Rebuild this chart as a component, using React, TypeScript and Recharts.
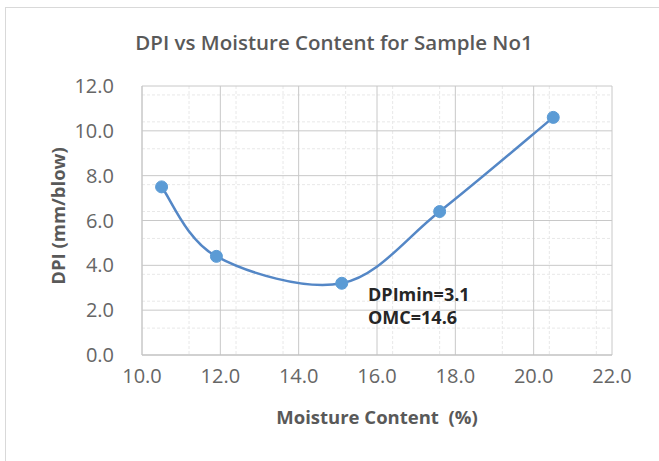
import React from "react";
import {
  LineChart,
  Line,
  XAxis,
  YAxis,
  CartesianGrid,
} from "recharts";

const moisture = [10.5, 11.9, 15.1, 17.6, 20.5];
const dpi = [7.5, 4.4, 3.2, 6.4, 10.6];

const xTicks = [10, 12, 14, 16, 18, 20, 22];
const yTicks = [0, 2, 4, 6, 8, 10, 12];

const title = "DPI vs Moisture Content for Sample No1";
const xTitle = "Moisture Content  (%)";
const yTitle = "DPI (mm/blow)";
const notes = ["DPImin=3.1", "OMC=14.6"];

const data = moisture.map((m, i) => ({ moisture: m, dpi: dpi[i] }));

// five minor divisions between each pair of major ticks
const minorOf = (ticks: number[]) => {
  const out: number[] = [];
  for (let i = 0; i < ticks.length - 1; i++) {
    const step = (ticks[i + 1] - ticks[i]) / 5;
    for (let k = 1; k < 5; k++) out.push(ticks[i] + step * k);
  }
  return out;
};

// spreadsheet-style smoothed line: bezier control points at +/- (next - prev) / 6
const smoothCurve = (context: any) => {
  let pts: [number, number][] = [];
  return {
    areaStart() {},
    areaEnd() {},
    lineStart() {
      pts = [];
    },
    point(x: number, y: number) {
      pts.push([+x, +y]);
    },
    lineEnd() {
      if (!pts.length) return;
      context.moveTo(pts[0][0], pts[0][1]);
      for (let i = 0; i < pts.length - 1; i++) {
        const p0 = pts[Math.max(i - 1, 0)];
        const p1 = pts[i];
        const p2 = pts[i + 1];
        const p3 = pts[Math.min(i + 2, pts.length - 1)];
        context.bezierCurveTo(
          p1[0] + (p2[0] - p0[0]) / 6,
          p1[1] + (p2[1] - p0[1]) / 6,
          p2[0] - (p3[0] - p1[0]) / 6,
          p2[1] - (p3[1] - p1[1]) / 6,
          p2[0],
          p2[1]
        );
      }
    },
  };
};

const font = "'Open Sans', sans-serif";
const grey = "#595959";

export default function App() {
  return (
    <div
      style={{
        position: "absolute",
        left: 0,
        top: 0,
        width: 659,
        height: 461,
        background: "#fff",
        fontFamily: font,
      }}
    >
      <div
        style={{
          position: "absolute",
          left: 5,
          top: 7,
          right: 0,
          bottom: 0,
          borderLeft: "1px solid #d9d9d9",
          borderTop: "1px solid #d9d9d9",
        }}
      />
      <LineChart
        width={659}
        height={461}
        data={data}
        margin={{ top: 86, right: 47, bottom: 76, left: 82 }}
      >
        <CartesianGrid
          horizontalValues={minorOf(yTicks)}
          verticalValues={minorOf(xTicks)}
          stroke="#e8e8e8"
          strokeDasharray="3 2"
        />
        <CartesianGrid
          horizontalValues={yTicks}
          verticalValues={xTicks}
          stroke="#c8c8c8"
        />
        <XAxis
          type="number"
          dataKey="moisture"
          domain={[10, 22]}
          ticks={xTicks}
          tickFormatter={(v) => v.toFixed(1)}
          tickLine={false}
          axisLine={{ stroke: "#bfbfbf" }}
          height={30}
          tick={{ fill: "#666", fontSize: 20, fontFamily: font }}
          tickMargin={8}
        />
        <YAxis
          type="number"
          domain={[0, 12]}
          ticks={yTicks}
          tickFormatter={(v) => v.toFixed(1)}
          tickLine={false}
          axisLine={{ stroke: "#c8c8c8" }}
          width={60}
          tick={{ fill: "#666", fontSize: 20, fontFamily: font }}
          tickMargin={22}
        />
        <Line
          dataKey="dpi"
          type={smoothCurve as any}
          stroke="#5487c6"
          strokeWidth={2.5}
          dot={{ r: 6, fill: "#5b9bd5", stroke: "#5b9bd5", strokeWidth: 1 }}
          activeDot={false}
          isAnimationActive={false}
        />
      </LineChart>
      <div
        style={{
          position: "absolute",
          left: 0,
          width: 668,
          top: 28,
          textAlign: "center",
          fontSize: 20.5,
          fontWeight: 600,
          color: grey,
        }}
      >
        {title}
      </div>
      <div
        style={{
          position: "absolute",
          left: 142,
          width: 470,
          top: 404,
          textAlign: "center",
          fontSize: 18.5,
          fontWeight: 700,
          color: grey,
          whiteSpace: "pre",
        }}
      >
        {xTitle}
      </div>
      <div
        style={{
          position: "absolute",
          left: 57,
          top: 216,
          transform: "translate(-50%, -50%) rotate(-90deg)",
          fontSize: 18.5,
          fontWeight: 700,
          color: grey,
          whiteSpace: "nowrap",
        }}
      >
        {yTitle}
      </div>
      <div
        style={{
          position: "absolute",
          left: 368,
          top: 283,
          fontSize: 18,
          fontWeight: 700,
          color: "#262626",
          lineHeight: "23px",
        }}
      >
        {notes.map((n) => (
          <div key={n}>{n}</div>
        ))}
      </div>
    </div>
  );
}
